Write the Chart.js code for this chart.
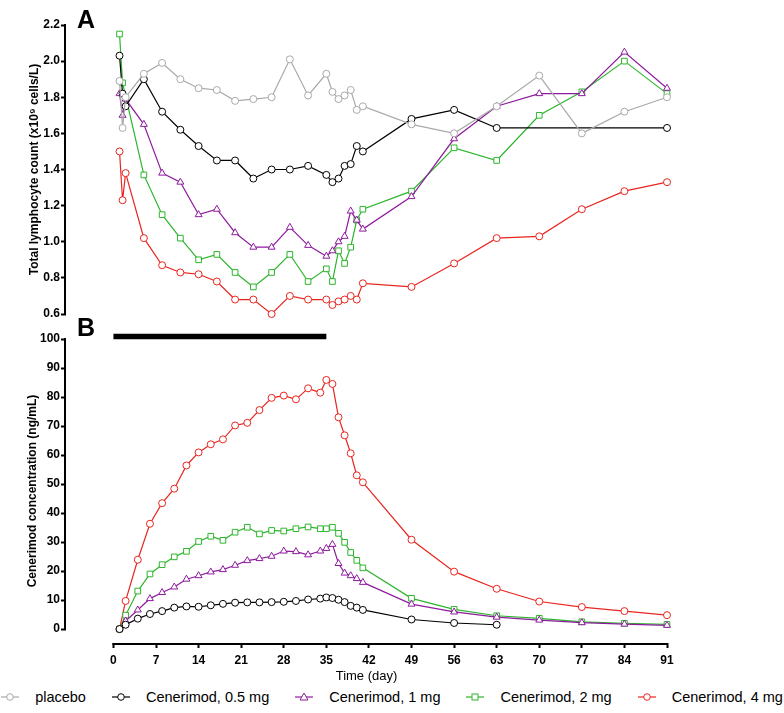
<!DOCTYPE html>
<html>
<head>
<meta charset="utf-8">
<script src="https://cdn.jsdelivr.net/npm/chart.js@4"></script>
<style>
  body { margin: 0; background: #fff; font-family: 'Liberation Sans', Arial, sans-serif; }
  #wrap { position: relative; width: 784px; height: 713px; overflow: hidden; }
  #topBox { position: absolute; left: 0; top: 0; width: 784px; height: 325px; }
  #botBox { position: absolute; left: 0; top: 325px; width: 784px; height: 361px; }
  .panel { position: absolute; font-weight: bold; font-size: 25px; line-height: 25px; }
  #legend { position: absolute; left: 0; top: 686px; width: 784px; height: 22px; display: flex;
            justify-content: center; align-items: center; font-size: 14.5px; color: #000; }
  .item { display: flex; align-items: center; margin: 0 13px; white-space: nowrap; }
  .item svg { margin-right: 16px; }
</style>
</head>
<body>
<div id="wrap">
  <div id="topBox"><canvas id="lymChart"></canvas></div>
  <div id="botBox"><canvas id="concChart"></canvas></div>
  <div class="panel" style="left:77px;top:7px">A</div>
  <div class="panel" style="left:77px;top:315px">B</div>
  <div id="legend"></div>
</div>
<script>
// series info
var seriesNames = ['placebo', 'Cenerimod, 0.5 mg', 'Cenerimod, 1 mg', 'Cenerimod, 2 mg', 'Cenerimod, 4 mg'];
var seriesColors = ['#a9a9a9', '#000000', '#8e1b9e', '#2db52d', '#e8251f'];
var seriesMarkers = ['circle', 'circle', 'triangle', 'rect', 'circle'];

// panel A: total lymphocyte count (x10^9 cells/L)
var lymDays = [1, 1.5, 2, 5, 8, 11, 14, 17, 20, 23, 26, 29, 32, 35, 36, 37, 38, 39, 40, 41, 49, 56, 63, 70, 77, 84, 91];
var lymPlacebo = [1.89, 1.63, 1.80, 1.93, 1.99, 1.90, 1.85, 1.84, 1.78, 1.79, 1.80, 2.01, 1.81, 1.93, 1.83, 1.79, 1.81, 1.84, 1.73, 1.75, 1.65, 1.60, 1.75, 1.92, 1.60, 1.72, 1.80];
var lym05 = [2.03, 1.82, 1.75, 1.90, 1.72, 1.62, 1.53, 1.45, 1.45, 1.35, 1.40, 1.40, 1.42, 1.37, 1.33, 1.35, 1.42, 1.43, 1.53, 1.50, 1.68, 1.73, 1.63, null, null, null, 1.63];
var lym1 = [1.82, 1.70, 1.79, 1.65, 1.38, 1.33, 1.15, 1.18, 1.05, 0.97, 0.97, 1.08, 0.98, 0.92, 0.95, 1.00, 1.03, 1.17, 1.12, 1.07, 1.25, 1.57, 1.75, 1.82, 1.82, 2.05, 1.85];
var lym2 = [2.15, 1.88, null, 1.37, 1.15, 1.02, 0.90, 0.93, 0.83, 0.75, 0.83, 0.93, 0.78, 0.85, 0.78, 0.95, 0.88, 0.97, 1.12, 1.18, 1.28, 1.52, 1.45, 1.70, 1.83, 2.00, 1.82];
var lym4 = [1.50, 1.23, 1.38, 1.02, 0.87, 0.83, 0.82, 0.78, 0.68, 0.68, 0.60, 0.70, 0.68, 0.68, 0.65, 0.67, 0.68, 0.70, 0.68, 0.77, 0.75, 0.88, 1.02, 1.03, 1.18, 1.28, 1.33];
var lymTicks = [0.6, 0.8, 1.0, 1.2, 1.4, 1.6, 1.8, 2.0, 2.2];

// panel B: cenerimod concentration (ng/mL)
var concDays = [1, 2, 4, 6, 8, 10, 12, 14, 16, 18, 20, 22, 24, 26, 28, 30, 32, 34, 35, 36, 37, 38, 39, 40, 41, 49, 56, 63, 70, 77, 84, 91];
var conc05 = [0, 1.5, 3.6, 5.2, 6.2, 7.4, 7.8, 7.7, 8.2, 8.7, 9.1, 9.2, 9.2, 9.3, 9.4, 9.7, 10.2, 10.5, 10.9, 10.7, 10.1, 9.3, 8.0, 7.4, 6.6, 3.3, 2.1, 1.5, null, null, null, null];
var conc1 = [0, 2.8, 6.6, 10.5, 12.6, 14.5, 17.2, 18.4, 19.7, 20.5, 22, 23.6, 24.3, 25.1, 26.9, 26.7, 25.6, 26.9, 27.8, 29.2, 22.6, 19.3, 18.4, 17.4, 16.1, 8.6, 5.9, 4.1, 3.1, 2.2, 1.7, 1.3];
var conc2 = [0, 4.8, 13.1, 19, 22.2, 24.9, 26.8, 30.2, 32, 30.6, 33.4, 35.1, 32.8, 34, 33.8, 34.6, 35.2, 34.6, 34.6, 35.1, 33, 29.9, 26.4, 23.7, 21.1, 10.6, 6.8, 4.6, 3.7, 2.5, 2.0, 1.6];
var conc4 = [0, 9.7, 23.9, 36.3, 43.4, 48.4, 56.4, 60.9, 63.7, 65.4, 70.2, 71.1, 75.5, 79.7, 80.5, 79.2, 83, 81.5, 85.9, 84.5, 73, 66.8, 60.6, 53, 50.6, 30.8, 19.8, 13.9, 9.5, 7.6, 6.2, 4.8];
var concTicks = [0, 10, 20, 30, 40, 50, 60, 70, 80, 90, 100];

var dayTicks = [0, 7, 14, 21, 28, 35, 42, 49, 56, 63, 70, 77, 84, 91];
var treatmentDays = [0, 35];

Chart.defaults.font.family = "'Liberation Sans', Arial, sans-serif";
Chart.defaults.color = '#000';

function makeDataset(i, days, vals) {
  var r = seriesMarkers[i] === 'circle' ? 3.5 : 4;
  return {
    label: seriesNames[i],
    data: days.map(function (d, k) { return { x: d, y: vals[k] }; }),
    borderColor: seriesColors[i],
    backgroundColor: '#fff',
    pointBorderColor: seriesColors[i],
    pointBackgroundColor: '#fff',
    pointStyle: seriesMarkers[i],
    pointRadius: r,
    pointHoverRadius: r,
    pointBorderWidth: 1,
    borderWidth: 1.2,
    spanGaps: true,
    clip: false
  };
}

// axis lines only span the tick range (Prism style)
var axisLines = {
  id: 'axisLines',
  afterDraw: function (chart) {
    var ctx = chart.ctx, x = chart.scales.x, y = chart.scales.y, area = chart.chartArea;
    var yt = y.ticks, xt = x.ticks;
    ctx.save();
    ctx.strokeStyle = '#000';
    ctx.lineWidth = 2;
    ctx.beginPath();
    ctx.moveTo(area.left - 1, y.getPixelForValue(yt[0].value) + 1);
    ctx.lineTo(area.left - 1, y.getPixelForValue(yt[yt.length - 1].value) - 1);
    if (x.options.display) {
      ctx.moveTo(x.getPixelForValue(xt[0].value) - 1, area.bottom + 1);
      ctx.lineTo(x.getPixelForValue(xt[xt.length - 1].value) + 1, area.bottom + 1);
    }
    ctx.stroke();
    ctx.restore();
  }
};

// black bar showing the treatment period
var treatmentBar = {
  id: 'treatmentBar',
  afterDraw: function (chart) {
    var ctx = chart.ctx, x = chart.scales.x;
    ctx.save();
    ctx.strokeStyle = '#000';
    ctx.lineWidth = 5.5;
    ctx.beginPath();
    ctx.moveTo(x.getPixelForValue(treatmentDays[0]), chart.chartArea.top - 2.5);
    ctx.lineTo(x.getPixelForValue(treatmentDays[1]), chart.chartArea.top - 2.5);
    ctx.stroke();
    ctx.restore();
  }
};

function yAxis(ticks, min, max, title, titlePad, decimals) {
  return {
    type: 'linear',
    min: min,
    max: max,
    afterBuildTicks: function (s) { s.ticks = ticks.map(function (v) { return { value: v }; }); },
    afterFit: function (s) { s.width = 66; },
    border: { display: false },
    grid: { drawOnChartArea: false, drawTicks: true, tickLength: 5, tickColor: '#000', tickWidth: 2 },
    ticks: {
      padding: 1,
      font: { size: 12, weight: 'bold' },
      callback: function (v) { return Number(v).toFixed(decimals); }
    },
    title: { display: true, text: title, font: { size: 12, weight: 'bold' }, padding: { top: titlePad, bottom: 0 } }
  };
}

function xAxis(show) {
  return {
    type: 'linear',
    display: show,
    min: -7.8,
    max: 91,
    afterBuildTicks: function (s) { s.ticks = dayTicks.map(function (v) { return { value: v }; }); },
    afterFit: function (s) { if (show) s.height = 43; },
    border: { display: false },
    grid: { drawOnChartArea: false, drawTicks: true, tickLength: 5, tickColor: '#000', tickWidth: 2 },
    ticks: { padding: 5, maxRotation: 0, autoSkip: false, font: { size: 12, weight: 'bold' } },
    title: { display: true, text: 'Time (day)', font: { size: 13 }, padding: { top: 0, bottom: 2 } }
  };
}

var lymSets = [lymPlacebo, lym05, lym1, lym2, lym4].map(function (v, i) { return makeDataset(i, lymDays, v); });
// the 0.5 mg follow-up segment from day 63 to day 91 is drawn in grey
lymSets[1].segment = { borderColor: function (c) { return c.p0.parsed.x === 63 ? '#666' : undefined; },
                       borderWidth: function (c) { return c.p0.parsed.x === 63 ? 1.6 : undefined; } };

new Chart(document.getElementById('lymChart').getContext('2d'), {
  type: 'line',
  data: { datasets: lymSets },
  options: {
    responsive: true,
    maintainAspectRatio: false,
    animation: false,
    layout: { padding: { top: 25, bottom: 11, right: 117, left: 0 } },
    plugins: { legend: { display: false }, tooltip: { enabled: false } },
    scales: {
      x: xAxis(false),
      y: yAxis(lymTicks, 0.6, 2.2, 'Total lymphocyte count (x10\u2079 cells/L)', 27, 1)
    }
  },
  plugins: [axisLines]
});

var concSets = [conc05, conc1, conc2, conc4].map(function (v, i) { return makeDataset(i + 1, concDays, v); });

new Chart(document.getElementById('concChart').getContext('2d'), {
  type: 'line',
  data: { datasets: concSets },
  options: {
    responsive: true,
    maintainAspectRatio: false,
    animation: false,
    layout: { padding: { top: 14, bottom: 0, right: 117, left: 0 } },
    plugins: { legend: { display: false }, tooltip: { enabled: false } },
    scales: {
      x: xAxis(true),
      y: yAxis(concTicks, -4.8, 100, 'Cenerimod concentration (ng/mL)', 25, 0)
    }
  },
  plugins: [axisLines, treatmentBar]
});

// legend: line with open marker, then the name
var legend = document.getElementById('legend');
seriesNames.forEach(function (name, i) {
  var c = seriesColors[i];
  var mark;
  if (seriesMarkers[i] === 'triangle') {
    mark = '<polygon points="9,1 13,8 5,8" fill="#fff" stroke="' + c + '" stroke-width="1"/>';
  } else if (seriesMarkers[i] === 'rect') {
    mark = '<rect x="6" y="2" width="6" height="6" fill="#fff" stroke="' + c + '" stroke-width="1"/>';
  } else {
    mark = '<circle cx="9" cy="5" r="3.3" fill="#fff" stroke="' + c + '" stroke-width="1"/>';
  }
  var item = document.createElement('div');
  item.className = 'item';
  item.innerHTML = '<svg width="18" height="10"><line x1="0" y1="5" x2="18" y2="5" stroke="' + c +
    '" stroke-width="1.2"/>' + mark + '</svg><span>' + name + '</span>';
  legend.appendChild(item);
});
</script>
</body>
</html>
